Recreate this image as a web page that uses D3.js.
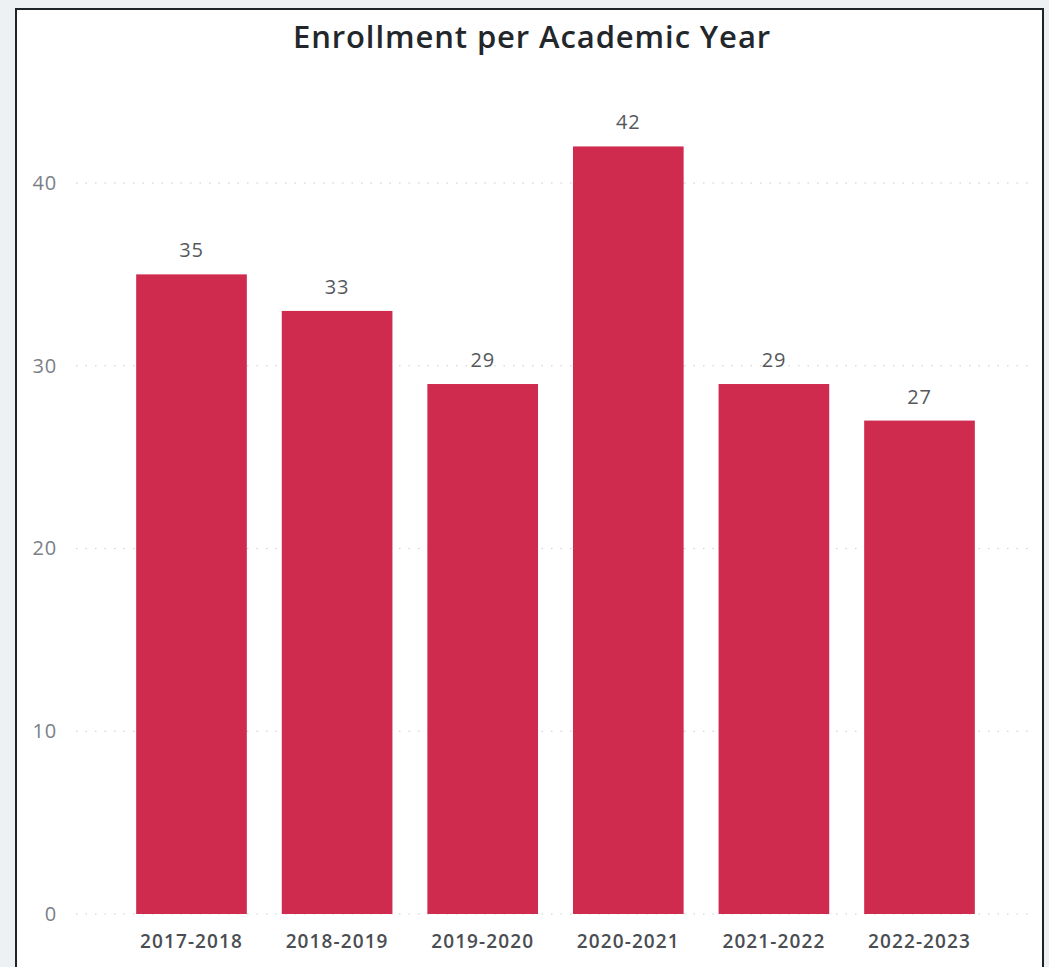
<!DOCTYPE html>
<html>
<head>
<meta charset="utf-8">
<script src="https://cdn.jsdelivr.net/npm/d3@7"></script>
<style>
  html, body { margin: 0; padding: 0; background: #eef1f4; }
  svg { display: block; }
</style>
</head>
<body>
<svg id="chart" width="1049" height="967"></svg>
<script>
// Enrollment counts by academic year
const years = ["2017-2018", "2018-2019", "2019-2020", "2020-2021", "2021-2022", "2022-2023"];
const enrollment = [35, 33, 29, 42, 29, 27];
const yTicks = [0, 10, 20, 30, 40];
const chartTitle = "Enrollment per Academic Year";

const svg = d3.select("#chart");
const W = 1049, H = 967;
const FONT = "'Open Sans', 'Noto Sans', sans-serif";

// white card with dark frame
svg.append("rect")
  .attr("x", 16).attr("y", 9)
  .attr("width", 1027).attr("height", H)
  .attr("fill", "#ffffff")
  .attr("stroke", "#1e2428")
  .attr("stroke-width", 2);

const x = d3.scaleBand()
  .domain(years)
  .range([118.7, 992.3])
  .paddingInner(0.24)
  .paddingOuter(0.12);

const y = d3.scaleLinear()
  .domain([0, 40])
  .range([914, 183]);

// dotted horizontal gridlines
svg.append("g")
  .selectAll("line")
  .data(yTicks)
  .join("line")
  .attr("x1", 76).attr("x2", 1032)
  .attr("y1", d => y(d)).attr("y2", d => y(d))
  .attr("stroke", "#c9ccd0")
  .attr("stroke-width", 1.2)
  .attr("stroke-dasharray", "1.5 8");

// y axis labels
const yAxis = d3.axisLeft(y).tickValues(yTicks).tickSize(0).tickPadding(0);
svg.append("g")
  .attr("transform", "translate(57,0)")
  .call(yAxis)
  .call(g => g.select(".domain").remove())
  .call(g => g.selectAll("text")
    .attr("font-family", FONT)
    .attr("font-size", 20)
    .attr("letter-spacing", 0.8)
    .attr("fill", "#7b8086"));

// bars
svg.append("g")
  .selectAll("rect")
  .data(years)
  .join("rect")
  .attr("x", d => x(d))
  .attr("width", x.bandwidth())
  .attr("y", (d, i) => y(enrollment[i]))
  .attr("height", (d, i) => y(0) - y(enrollment[i]))
  .attr("fill", "#cf2b4f");

// value labels above bars
svg.append("g")
  .selectAll("text")
  .data(years)
  .join("text")
  .attr("x", d => x(d) + x.bandwidth() / 2)
  .attr("y", (d, i) => y(enrollment[i]) - 17)
  .attr("text-anchor", "middle")
  .attr("font-family", FONT)
  .attr("font-size", 20)
  .attr("letter-spacing", 0.8)
  .attr("fill", "#55595d")
  .text((d, i) => enrollment[i]);

// x axis category labels
const xAxis = d3.axisBottom(x).tickSize(0).tickPadding(0);
svg.append("g")
  .attr("transform", "translate(0,934)")
  .call(xAxis)
  .call(g => g.select(".domain").remove())
  .call(g => g.selectAll("text")
    .attr("dy", "0.75em")
    .attr("font-family", FONT)
    .attr("font-size", 19)
    .attr("letter-spacing", 1.1)
    .attr("font-weight", 600)
    .attr("fill", "#4a4d52"));

// title
svg.append("text")
  .attr("x", 532)
  .attr("y", 48)
  .attr("text-anchor", "middle")
  .attr("font-family", FONT)
  .attr("font-size", 31)
  .attr("letter-spacing", 0.9)
  .attr("font-weight", 600)
  .attr("fill", "#23272b")
  .text(chartTitle);
</script>
</body>
</html>
